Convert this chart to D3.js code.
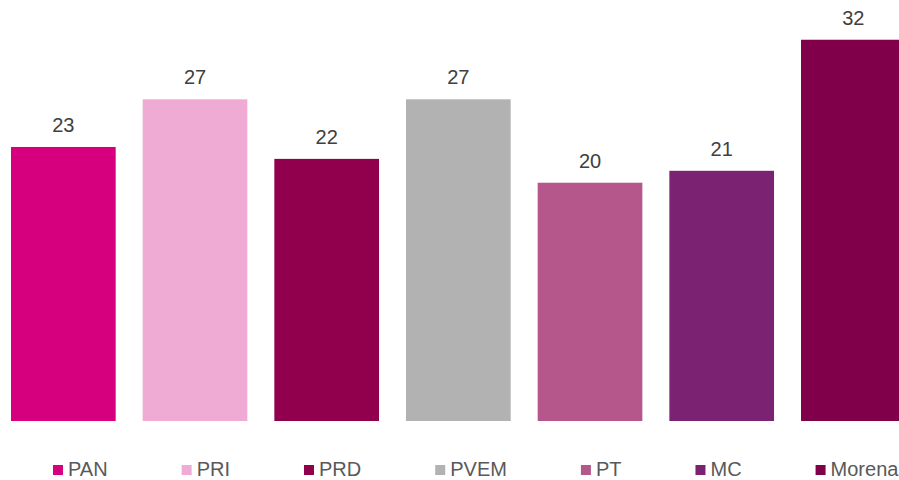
<!DOCTYPE html>
<html>
<head>
<meta charset="utf-8">
<script src="https://cdn.jsdelivr.net/npm/d3@7"></script>
<style>
  html, body { margin: 0; padding: 0; background: #ffffff; overflow: hidden; }
  svg { display: block; font-family: "Liberation Sans", Arial, sans-serif; }
</style>
</head>
<body>
<svg id="chart" width="899" height="480"></svg>
<script>
const parties = ["PAN", "PRI", "PRD", "PVEM", "PT", "MC", "Morena"];
const values = [23, 27, 22, 27, 20, 21, 32];
const colors = ["#D6007F", "#F0ABD4", "#91004C", "#B2B2B2", "#B5578A", "#7B2272", "#80004A"];

const svg = d3.select("#chart");

const x = d3.scaleBand()
  .domain(parties)
  .range([-2.5, 919.2])
  .paddingInner(0.205)
  .paddingOuter(0.1025);

const y = d3.scaleLinear()
  .domain([0, 35])
  .range([421, 4]);

const data = parties.map((p, i) => ({ party: p, value: values[i], color: colors[i] }));

svg.append("g").selectAll("rect")
  .data(data)
  .join("rect")
  .attr("x", d => x(d.party))
  .attr("y", d => y(d.value))
  .attr("width", x.bandwidth())
  .attr("height", d => y(0) - y(d.value))
  .attr("fill", d => d.color);

svg.append("g").selectAll("text")
  .data(data)
  .join("text")
  .attr("x", d => x(d.party) + x.bandwidth() / 2)
  .attr("y", d => y(d.value) - 15)
  .attr("text-anchor", "middle")
  .attr("font-size", 20)
  .attr("fill", "#404040")
  .text(d => d.value);

// Legend
const legend = svg.append("g");
let lx = 53;
const markerSize = 10;
data.forEach(d => {
  const g = legend.append("g");
  g.append("rect")
    .attr("x", lx)
    .attr("y", 465)
    .attr("width", markerSize)
    .attr("height", markerSize)
    .attr("fill", d.color);
  const t = g.append("text")
    .attr("x", lx + 15)
    .attr("y", 476)
    .attr("font-size", 20)
    .attr("fill", "#595959")
    .text(d.party);
  const tw = t.node().getComputedTextLength();
  lx = lx + 15 + tw + 74;
});
</script>
</body>
</html>
